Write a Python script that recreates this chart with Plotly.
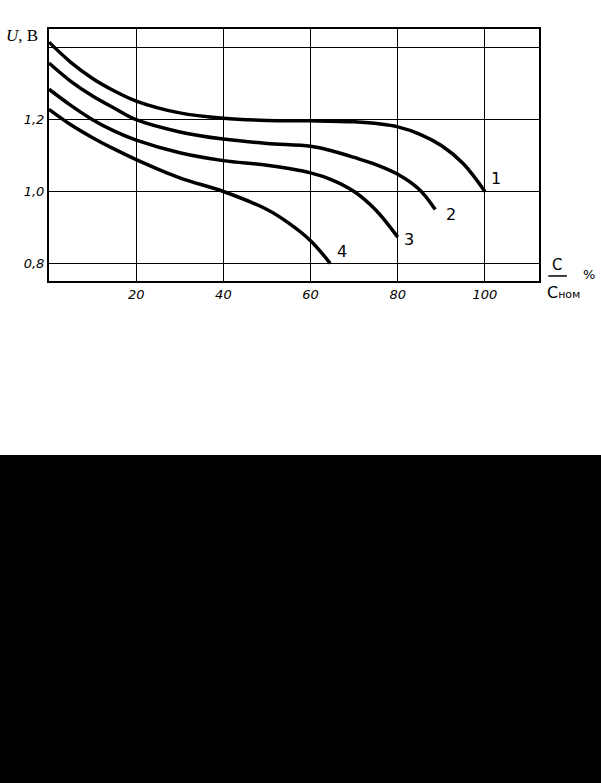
import plotly.graph_objects as go

# ---- data ----
c1_x = [0, 5, 10, 15, 20, 30, 40, 50, 60, 70, 76, 80, 85, 90, 95, 100]
c1_y = [1.416, 1.36, 1.315, 1.28, 1.252, 1.219, 1.204, 1.198, 1.197, 1.194, 1.188, 1.18, 1.16, 1.128, 1.078, 1.0]

c2_x = [0, 5, 10, 15, 20, 30, 40, 50, 60, 65, 70, 75, 80, 85, 88.6]
c2_y = [1.358, 1.307, 1.266, 1.232, 1.2, 1.166, 1.146, 1.134, 1.126, 1.113, 1.095, 1.075, 1.048, 1.005, 0.95]

c3_x = [0, 5, 10, 15, 20, 30, 40, 50, 60, 65, 70, 75, 80]
c3_y = [1.285, 1.24, 1.2, 1.168, 1.143, 1.108, 1.086, 1.073, 1.052, 1.032, 1.0, 0.948, 0.873]

c4_x = [0, 5, 10, 15, 20, 30, 40, 50, 55, 60, 64.5]
c4_y = [1.229, 1.186, 1.15, 1.118, 1.089, 1.038, 1.0, 0.95, 0.912, 0.863, 0.8]

curve_names = ["1", "2", "3", "4"]
label_x = [101.0, 90.6, 81.0, 65.5]
label_y = [1.037, 0.937, 0.866, 0.833]

x_ticks = [20, 40, 60, 80, 100]
x_ticktext = ["20", "40", "60", "80", "100"]
y_ticks = [0.8, 1.0, 1.2, 1.4]
y_ticktext = ["0,8", "1,0", "1,2", ""]

series = [(c1_x, c1_y), (c2_x, c2_y), (c3_x, c3_y), (c4_x, c4_y)]

fig = go.Figure()
for (xs, ys), name in zip(series, curve_names):
    fig.add_trace(go.Scatter(x=xs, y=ys, mode="lines", name=name,
                             line=dict(color="black", width=3.5, shape="spline", smoothing=1.0),
                             showlegend=False, hoverinfo="skip"))

for xv, yv, t in zip(label_x, label_y, curve_names):
    fig.add_annotation(x=xv, y=yv, text=t, showarrow=False, xanchor="left",
                       font=dict(family="DejaVu Sans", size=16, color="black"))

font_tick = dict(family="DejaVu Sans", size=13, color="black", style="italic")

fig.update_xaxes(range=[0, 112.4], tickvals=x_ticks, ticktext=x_ticktext,
                 showgrid=True, gridcolor="black", gridwidth=1.4,
                 showline=True, linecolor="black", linewidth=2, mirror=True,
                 ticks="", tickfont=font_tick, zeroline=False)
fig.update_yaxes(range=[0.7507, 1.4527], tickvals=y_ticks, ticktext=y_ticktext,
                 showgrid=True, gridcolor="black", gridwidth=1.4,
                 showline=True, linecolor="black", linewidth=2, mirror=True,
                 ticks="", tickfont=font_tick, zeroline=False)

# y-axis title
fig.add_annotation(xref="paper", yref="paper", x=-0.092, y=0.975, xanchor="left", yanchor="middle",
                   text="<i>U</i>, В", showarrow=False,
                   font=dict(family="Liberation Serif", size=17, color="black"))
# x-axis title C / Cном, %
fig.add_annotation(xref="paper", yref="paper", x=1.037, y=0.062, xanchor="center", yanchor="middle",
                   text="C", showarrow=False, font=dict(family="DejaVu Sans", size=15, color="black"))
fig.add_shape(type="line", xref="paper", yref="paper", x0=1.019, x1=1.057, y0=0.02, y1=0.02,
              line=dict(color="black", width=1.5))
fig.add_annotation(xref="paper", yref="paper", x=1.05, y=-0.045, xanchor="center", yanchor="middle",
                   text="C<span style='font-size:11px'>ном</span>", showarrow=False,
                   font=dict(family="DejaVu Sans", size=16, color="black"))
fig.add_annotation(xref="paper", yref="paper", x=1.102, y=0.025, xanchor="center", yanchor="middle",
                   text="%", showarrow=False, font=dict(family="DejaVu Sans", size=13, color="black"))

# black block at the bottom of the page
fig.add_shape(type="rect", xref="paper", yref="paper", x0=-0.2, x1=1.3, y0=-2.2, y1=-0.6905,
              fillcolor="black", line=dict(width=0), layer="above")

fig.update_layout(width=601, height=783,
                  margin=dict(l=49, r=62, t=29, b=502),
                  paper_bgcolor="white", plot_bgcolor="white",
                  showlegend=False)

fig.write_html("out.html", config={"displayModeBar": False},
               post_script="document.body.style.margin='0';document.body.style.padding='0';")
